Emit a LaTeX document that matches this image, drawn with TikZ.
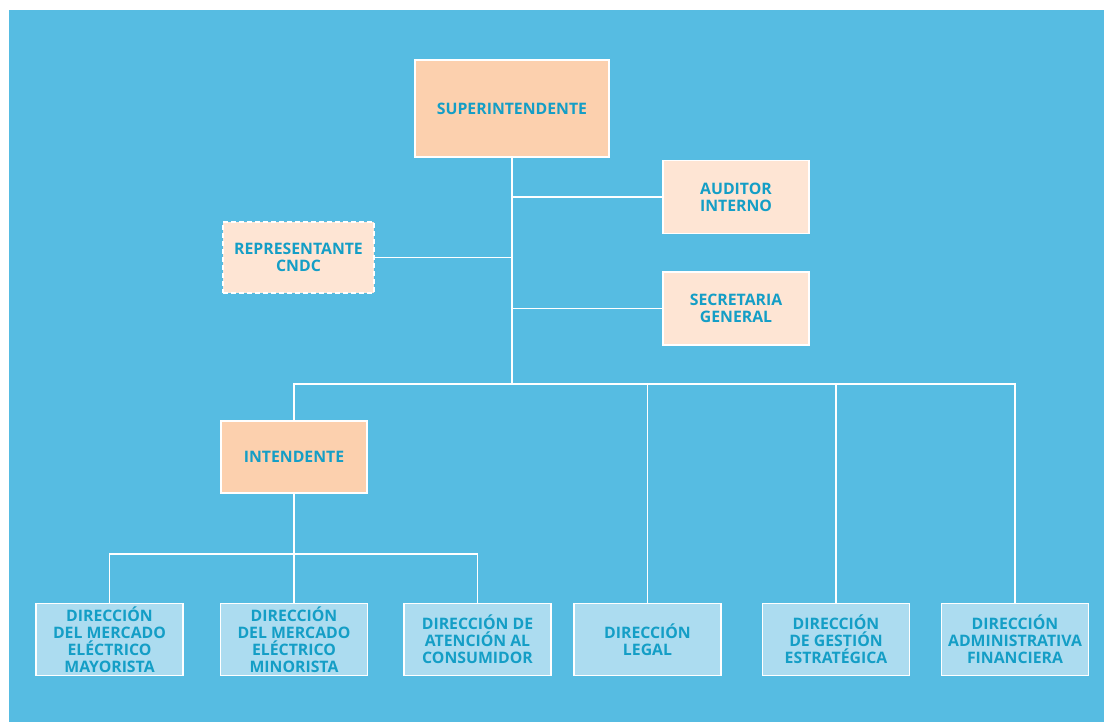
\documentclass[tikz,border=0pt]{standalone}
\usepackage{fontspec}
\setmainfont{Open Sans}
\usetikzlibrary{positioning}
\definecolor{fondoazul}{RGB}{86,188,226}
\definecolor{textoazul}{RGB}{20,158,198}
\definecolor{durazno}{RGB}{252,208,174}
\definecolor{duraznoclaro}{RGB}{254,229,212}
\definecolor{celeste}{RGB}{172,220,240}

\begin{document}
\begin{tikzpicture}[
    x=1pt, y=-1pt,
    box/.style={draw=white, line width=1.5pt, inner sep=0pt, align=center, text=textoazul,
                font=\bfseries\fontsize{15.8}{17}\selectfont, minimum width=146pt, minimum height=73pt},
    jefe/.style={box, fill=durazno},
    staff/.style={box, fill=duraznoclaro},
    direc/.style={box, fill=celeste, minimum width=147pt, minimum height=72pt},
    link/.style={draw=white, line width=1.5pt}
]
\useasboundingbox[fill=white] (0,0) rectangle (1104,722);
\fill[fondoazul] (9,10) rectangle (1104,722);

\node[jefe, minimum width=194pt, minimum height=97pt] (super) at (512,108.5) {SUPERINTENDENTE};
\node[staff] (auditor) at (736,197) {AUDITOR\\INTERNO};
\node[staff] (secret) at (736,308.5) {SECRETARIA\\GENERAL};
\node[staff, minimum width=151pt, minimum height=71pt, dash pattern=on 5pt off 3pt] (repres) at (298.5,257.5) {REPRESENTANTE\\CNDC};
\node[jefe, minimum height=72pt] (intend) at (294,457) {INTENDENTE};

\node[direc] (mayor) at (109.5,639.5) {DIRECCIÓN\\DEL MERCADO\\ELÉCTRICO\\MAYORISTA};
\node[direc] (minor) at (294,639.5) {DIRECCIÓN\\DEL MERCADO\\ELÉCTRICO\\MINORISTA};
\node[direc] (consum) at (477.5,639.5) {DIRECCIÓN DE\\ATENCIÓN AL\\CONSUMIDOR};
\node[direc] (legal) at (647.5,639.5) {DIRECCIÓN\\LEGAL};
\node[direc] (gestion) at (836,639.5) {DIRECCIÓN\\DE GESTIÓN\\ESTRATÉGICA};
\node[direc] (admin) at (1015,639.5) {DIRECCIÓN\\ADMINISTRATIVA\\FINANCIERA};

\coordinate (bus) at (512,384);
\coordinate (bus2) at (294,554);

% tronco superior
\draw[link] (super.south) -- (bus);
\draw[link] (auditor.west) -- (auditor.west -| super.south);
\draw[link] (secret.west) -- (secret.west -| super.south);
\draw[link] (repres.east) -- (repres.east -| super.south);
% direcciones
\draw[link] (intend.north) |- (bus) -| (admin.north);
\draw[link] (legal.north) -- (legal.north |- bus);
\draw[link] (gestion.north) -- (gestion.north |- bus);
% bajo el intendente
\draw[link] (intend.south) -- (bus2);
\draw[link] (mayor.north) |- (bus2) -| (consum.north);
\draw[link] (minor.north) -- (bus2);
\end{tikzpicture}
\end{document}
